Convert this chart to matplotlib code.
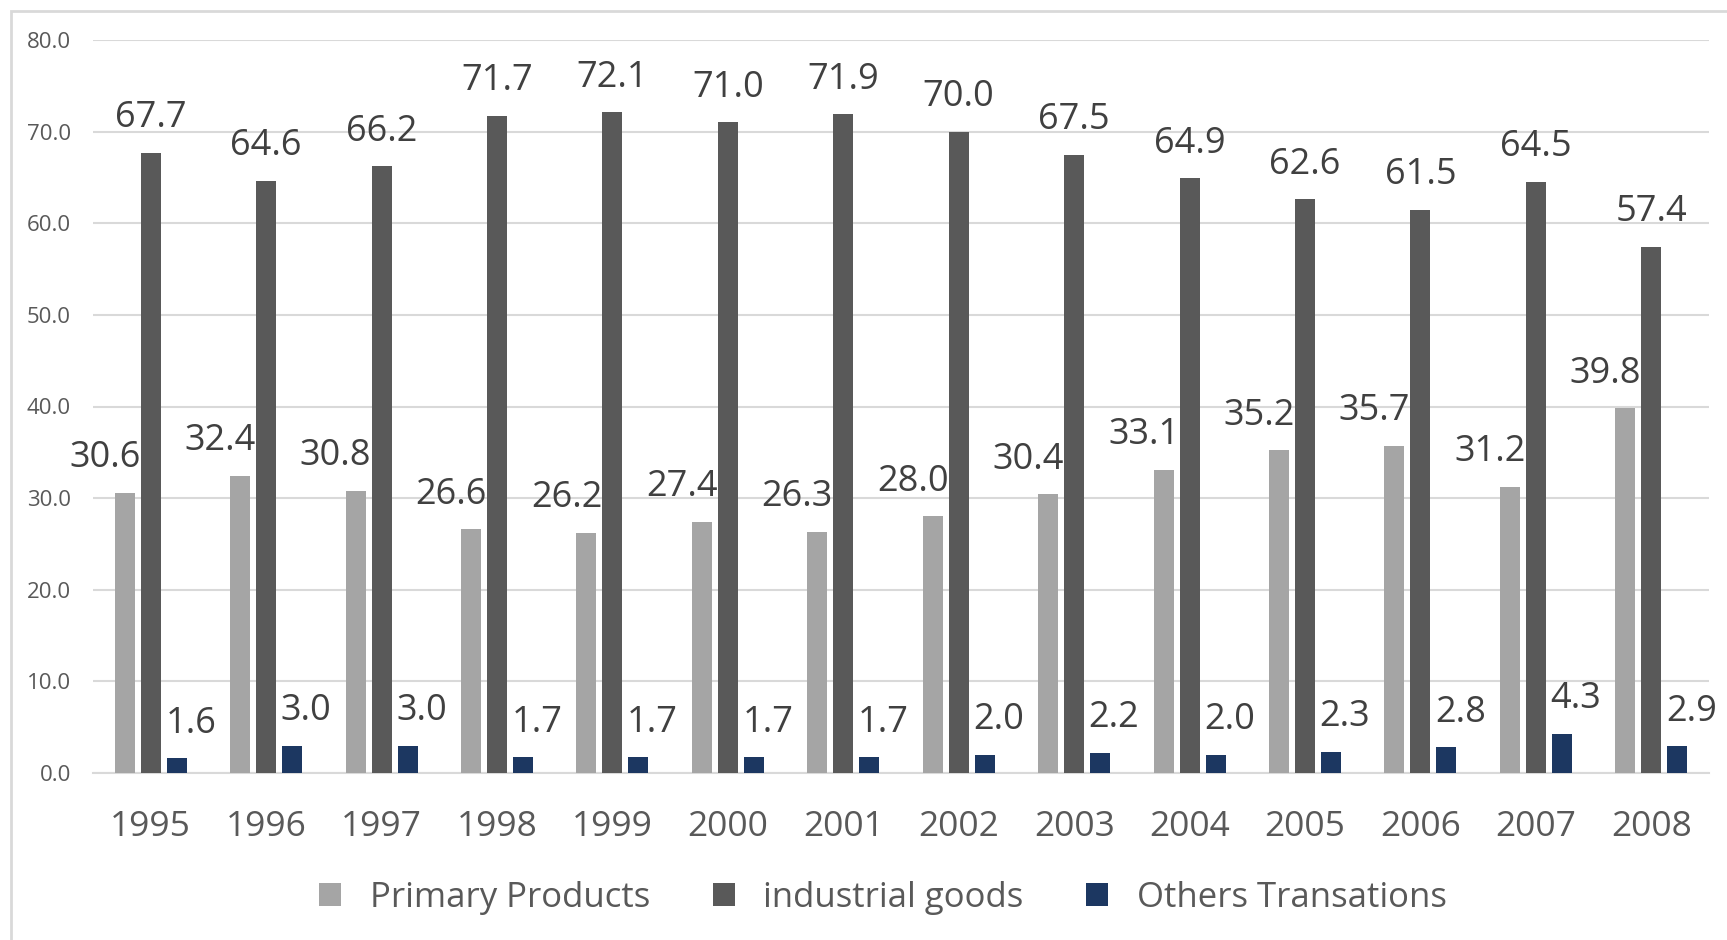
import matplotlib
matplotlib.use("Agg")
from matplotlib import pyplot as plt
from matplotlib.patches import Rectangle, Patch
import numpy as np

years = ["1995", "1996", "1997", "1998", "1999", "2000", "2001",
         "2002", "2003", "2004", "2005", "2006", "2007", "2008"]
primary = [30.6, 32.4, 30.8, 26.6, 26.2, 27.4, 26.3, 28.0, 30.4, 33.1, 35.2, 35.7, 31.2, 39.8]
industrial = [67.7, 64.6, 66.2, 71.7, 72.1, 71.0, 71.9, 70.0, 67.5, 64.9, 62.6, 61.5, 64.5, 57.4]
others = [1.6, 3.0, 3.0, 1.7, 1.7, 1.7, 1.7, 2.0, 2.2, 2.0, 2.3, 2.8, 4.3, 2.9]
series_names = ["Primary Products", "industrial goods", "Others Transations"]

colors = ["#A5A5A5", "#595959", "#1C3761"]
text_col = "#595959"
label_col = "#404040"
grid_col = "#D9D9D9"

plt.rcParams['font.family'] = ['Open Sans', 'DejaVu Sans']

W, H = 1727, 940
fig = plt.figure(figsize=(W / 100, H / 100), dpi=100)

# chart frame (cropped at right and bottom)
fig.patches.append(Rectangle((11 / W, -0.2), 1.5, 1.2 - 11 / H, transform=fig.transFigure,
                             fill=False, edgecolor=grid_col, linewidth=2))

ax = fig.add_axes([93 / W, 1 - 773 / H, (1709 - 93) / W, (773 - 40) / H])

x = np.arange(len(years))
bw = 0.173
step = 0.225
data = [primary, industrial, others]
xoffs = [-20, 0, 14]  # label nudges in pixels

for i, vals in enumerate(data):
    pos = x + (i - 1) * step
    ax.bar(pos, vals, width=bw, color=colors[i], label=series_names[i], zorder=3)
    for p, v in zip(pos, vals):
        ax.annotate(f"{v:.1f}", (p, v), xytext=(xoffs[i] * 0.72, 12), textcoords="offset points",
                    ha="center", va="bottom", fontsize=26, color=label_col,
                    annotation_clip=False, zorder=4)

ax.set_xlim(-0.5, len(years) - 0.5)
ax.set_ylim(0, 80)
ax.set_yticks(np.arange(0, 81, 10))
ax.set_yticklabels([f"{t:.1f}" for t in np.arange(0, 81, 10)])
ax.set_xticks(x)
ax.set_xticklabels(years)
ax.tick_params(axis="y", length=0, pad=16, labelsize=16, labelcolor=text_col)
ax.tick_params(axis="x", length=0, pad=27, labelsize=25.5, labelcolor=text_col)
ax.grid(axis="y", color=grid_col, linewidth=1.5, zorder=0)
for s in ["top", "right", "left"]:
    ax.spines[s].set_visible(False)
ax.spines["bottom"].set_color(grid_col)
ax.spines["bottom"].set_linewidth(1.5)

handles = [Patch(facecolor=c) for c in colors]
fig.legend(handles, series_names, loc="center", bbox_to_anchor=(883 / W, 1 - 898 / H),
           ncol=3, frameon=False, fontsize=25, labelcolor=text_col,
           handlelength=0.63, handleheight=0.63, handletextpad=0.83, columnspacing=1.8)

fig.savefig("out.png", dpi=100)
